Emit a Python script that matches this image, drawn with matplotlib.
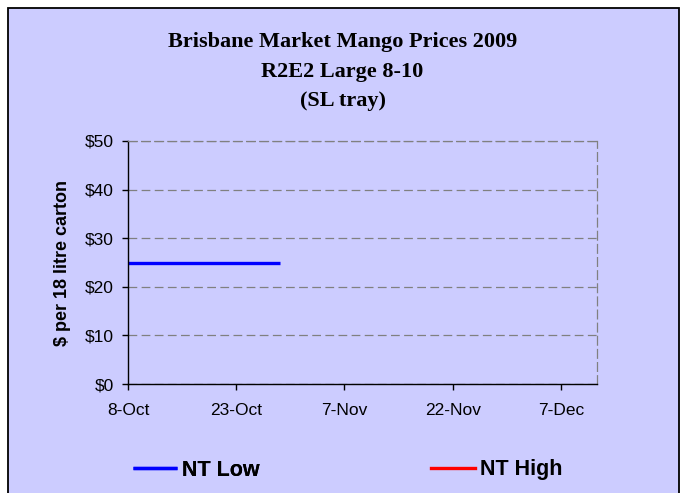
import matplotlib
matplotlib.use("Agg")
import matplotlib.pyplot as plt
from matplotlib.patches import Rectangle
import datetime as dt

# Data
low_dates = ["2009-10-08", "2009-10-15", "2009-10-22", "2009-10-29"]
low_values = [25, 25, 25, 25]
high_dates = []
high_values = []
tick_dates = ["2009-10-08", "2009-10-23", "2009-11-07", "2009-11-22", "2009-12-07"]
tick_labels = ["8-Oct", "23-Oct", "7-Nov", "22-Nov", "7-Dec"]
y_ticks = [0, 10, 20, 30, 40, 50]
y_labels = ["$0", "$10", "$20", "$30", "$40", "$50"]

def d(s):
    return dt.datetime.strptime(s, "%Y-%m-%d")

W, H = 685, 493
bg = "#CCCCFF"
fig = plt.figure(figsize=(6.85, 4.93), dpi=100)
fig.patch.set_facecolor("white")
fig.patches.append(Rectangle((8/W, -0.05), (679-8)/W, 1.05 - 8/H,
                             transform=fig.transFigure, facecolor=bg,
                             edgecolor="black", linewidth=1.3, zorder=-10))

ax = fig.add_axes([128/W, 1-384/H, (597-128)/W, (384-141)/H])
ax.set_facecolor(bg)

l1, = ax.plot([d(s) for s in low_dates], low_values, color="#0000FF", lw=2.4,
              label="NT Low", solid_capstyle="butt")
l2, = ax.plot([d(s) for s in high_dates], high_values, color="#FF0000", lw=2.4,
              label="NT High")

ax.set_xlim(d("2009-10-08"), d("2009-12-12"))
ax.set_ylim(0, 50)
ax.set_xticks([d(s) for s in tick_dates])
ax.set_xticklabels(tick_labels, fontfamily="Liberation Sans", fontsize=12.5)
ax.set_yticks(y_ticks)
ax.set_yticklabels(y_labels, fontfamily="Liberation Sans", fontsize=12.5)
ax.tick_params(axis="both", direction="out", length=4, width=1, colors="black")
ax.tick_params(axis="y", pad=6)
ax.tick_params(axis="x", pad=10)

dash = (0, (7, 3.5))
ax.yaxis.grid(True, linestyle=dash, color="#808080", linewidth=0.9)
for s in ["top", "right"]:
    ax.spines[s].set_linestyle(dash)
    ax.spines[s].set_color("#808080")
    ax.spines[s].set_linewidth(0.9)
for s in ["left", "bottom"]:
    ax.spines[s].set_color("black")
    ax.spines[s].set_linewidth(1.0)

ax.set_ylabel("$ per 18 litre carton", fontfamily="Liberation Sans",
              fontweight="bold", fontsize=13, labelpad=10)

title_lines = ["Brisbane Market Mango Prices 2009", "R2E2 Large 8-10", "(SL tray)"]
baselines = [46.5, 76.5, 106]
for txt, yb in zip(title_lines, baselines):
    fig.text(0.5, 1-yb/H, txt, ha="center", va="baseline",
             fontfamily="Liberation Serif", fontweight="bold", fontsize=16)

prop = {"family": "Liberation Sans", "weight": "bold", "size": 15.5}
leg1 = fig.legend(handles=[l1], loc="center left", bbox_to_anchor=(133/W, 1-470/H),
                  frameon=False, handlelength=2.05, handletextpad=0.22,
                  borderpad=0, borderaxespad=0, prop=prop)
fig.add_artist(leg1)
leg2 = fig.legend(handles=[l2], loc="center left", bbox_to_anchor=(431/W, 1-470/H),
                  frameon=False, handlelength=2.05, handletextpad=0.22,
                  borderpad=0, borderaxespad=0, prop=prop)

fig.savefig("out.png", dpi=100, facecolor=fig.get_facecolor())
